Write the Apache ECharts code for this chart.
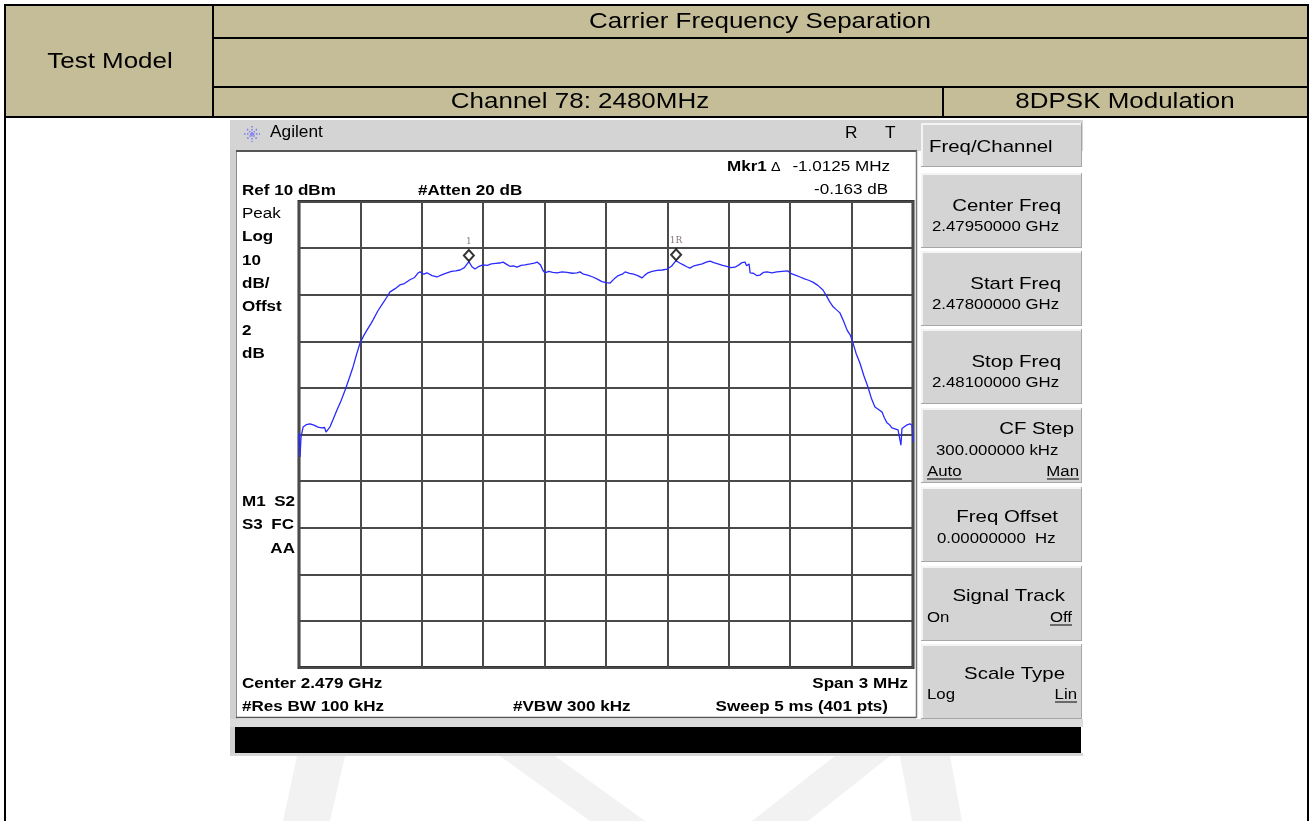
<!DOCTYPE html>
<html>
<head>
<meta charset="utf-8">
<title>Carrier Frequency Separation</title>
<script src="https://cdn.jsdelivr.net/npm/echarts/dist/echarts.min.js"></script>
<style>
  html, body { margin: 0; padding: 0; background: #fff; }
  #chart { width: 1313px; height: 821px; }
</style>
</head>
<body>
<div id="chart"></div>
<script>
// trace: offset from 2.479 GHz centre (kHz) and level (dBm)
const traceFreqKHz = [
  -1500, -1495, -1490, -1480, -1465, -1446, -1427, -1407, -1390, -1375,
  -1368, -1358, -1349, -1332, -1314, -1295, -1275, -1255, -1236, -1220,
  -1202, -1185, -1168, -1150, -1138, -1115, -1090, -1072, -1055, -1030,
  -1007, -985, -958, -935, -920, -909, -890, -875, -850, -826,
  -800, -777, -755, -735, -713, -692, -670, -655, -640, -620,
  -601, -580, -560, -540, -520, -503, -485, -470, -452, -435,
  -415, -396, -370, -350, -337, -320, -308, -298, -280, -260,
  -239, -215, -190, -165, -142, -127, -110, -90, -64, -40,
  -20, 0, 20, 40, 60, 80, 93, 115, 135, 155,
  176, 190, 205, 225, 250, 275, 298, 320, 342, 360,
  378, 395, 410, 430, 450, 470, 490, 508, 527, 547,
  570, 590, 610, 630, 650, 665, 679, 687, 694, 699,
  704, 720, 736, 752, 770, 787, 810, 835, 860, 889,
  905, 925, 948, 970, 990, 1011, 1035, 1060, 1075, 1094,
  1110, 1125, 1143, 1160, 1178, 1195, 1207, 1222, 1241, 1260,
  1280, 1297, 1314, 1330, 1349, 1360, 1373, 1385, 1397, 1412,
  1427, 1436, 1441, 1446, 1451, 1468, 1485, 1495, 1500
];
const traceLevelDbm = [
  -39.7, -44.8, -40.5, -38.4, -37.9, -37.7, -38.0, -38.4, -38.6, -38.5,
  -39.5, -38.9, -38.4, -36.6, -34.7, -32.8, -30.5, -28.0, -25.5, -23.0,
  -20.4, -18.9, -17.6, -16.3, -15.4, -13.5, -11.8, -10.6, -9.4, -8.7,
  -7.9, -7.6, -6.8, -6.3, -5.4, -5.1, -5.6, -5.3, -5.9, -6.2,
  -5.7, -5.3, -5.0, -4.9, -4.7, -4.2, -2.9, -4.0, -4.5, -3.9,
  -3.6, -3.7, -3.4, -3.3, -3.2, -3.0, -3.5, -3.9, -3.8, -4.1,
  -3.7, -3.6, -3.4, -3.2, -3.0, -3.6, -4.8, -5.3, -5.0, -5.2,
  -5.3, -5.1, -5.2, -5.4, -5.3, -5.1, -5.6, -5.8, -6.2, -6.7,
  -7.2, -7.4, -7.5, -6.6, -5.9, -5.6, -5.1, -5.4, -5.6, -5.9,
  -6.4, -5.8, -5.3, -5.0, -4.8, -4.7, -4.5, -3.9, -2.7, -3.2,
  -3.6, -4.0, -4.3, -3.8, -3.6, -3.4, -3.0, -2.8, -3.1, -3.4,
  -3.7, -3.9, -4.2, -4.1, -3.6, -3.1, -3.0, -3.8, -4.1, -3.4,
  -5.3, -5.4, -5.9, -5.8, -5.2, -5.1, -5.3, -5.1, -5.0, -4.9,
  -5.5, -5.8, -6.2, -6.6, -6.9, -7.3, -8.0, -9.0, -10.1, -11.6,
  -12.6, -13.2, -13.9, -15.6, -17.6, -18.8, -20.4, -22.6, -24.7, -27.4,
  -29.8, -32.3, -34.1, -34.6, -35.2, -36.4, -37.5, -37.9, -38.6, -38.8,
  -39.0, -39.4, -42.3, -38.7, -38.6, -38.0, -37.7, -38.0, -41.6
];

const markerNames = ['1', '1R'];
const markerFreqKHz = [-670, 342.5];
const markerLevelDbm = [-2.86, -2.7];

const refLevel = 10;      // dBm, top graticule
const dbPerDiv = 10;
const spanKHz = 3000;

// header table texts
const tableTitle = 'Carrier Frequency Separation';
const tableRowHead = 'Test Model';
const channelText = 'Channel 78: 2480MHz';
const modulationText = '8DPSK Modulation';

// softkey menu: [label, value line, left option, right option]
const softkeys = [
  ['Center Freq', '2.47950000 GHz', '', ''],
  ['Start Freq', '2.47800000 GHz', '', ''],
  ['Stop Freq', '2.48100000 GHz', '', ''],
  ['CF Step', '300.000000 kHz', 'Auto', 'Man'],
  ['Freq Offset', '0.00000000  Hz', '', ''],
  ['Signal Track', '', 'On', 'Off'],
  ['Scale Type', '', 'Log', 'Lin']
];

const FONT = '"Liberation Sans", Arial, sans-serif';

function txt(x, y, s, fs, o) {
  o = o || {};
  return {
    type: 'text', x: x, y: y, z: 30, silent: true,
    scaleX: o.sx || 1.1,
    style: {
      text: s, fontFamily: FONT, fontSize: fs,
      fontWeight: o.bold ? 'bold' : 'normal',
      fill: o.color || '#000',
      align: o.align || 'left', verticalAlign: 'middle'
    }
  };
}
function rect(x, y, w, h, fill, z) {
  return { type: 'rect', z: z == null ? -5 : z, silent: true, shape: { x: x, y: y, width: w, height: h }, style: { fill: fill } };
}
function line(x1, y1, x2, y2, color, w, z) {
  return { type: 'line', z: z == null ? 25 : z, silent: true, shape: { x1: x1, y1: y1, x2: x2, y2: y2 }, style: { stroke: color, lineWidth: w || 1 } };
}

const g = [];

// watermark
[
  [[297, 756], [345, 756], [330, 821], [283, 821]],
  [[500, 756], [555, 756], [645, 821], [590, 821]],
  [[835, 756], [890, 756], [808, 821], [752, 821]],
  [[900, 756], [950, 756], [962, 821], [912, 821]]
].forEach(p => g.push({ type: 'polygon', z: -20, silent: true, shape: { points: p }, style: { fill: '#f2f2f2' } }));

// header table
g.push(rect(5, 5, 1303, 112, '#C4BD97', -10));
g.push(line(4, 5, 1309, 5, '#000', 2));
g.push(line(213, 38, 1308, 38, '#000', 2));
g.push(line(213, 87, 1308, 87, '#000', 2));
g.push(line(4, 117, 1309, 117, '#000', 2));
g.push(line(5, 4, 5, 821, '#000', 2));
g.push(line(1308, 4, 1308, 821, '#000', 2));
g.push(line(213, 5, 213, 117, '#000', 2));
g.push(line(943, 87, 943, 117, '#000', 2));
g.push(txt(110, 62, tableRowHead, 22, { align: 'center', sx: 1.18 }));
g.push(txt(760, 22, tableTitle, 22, { align: 'center', sx: 1.18 }));
g.push(txt(580, 102, channelText, 22, { align: 'center', sx: 1.18 }));
g.push(txt(1125, 102, modulationText, 22, { align: 'center', sx: 1.18 }));

// instrument frame
g.push(rect(230, 120, 853, 31, '#d4d4d4', -6));
g.push(rect(230, 150, 7, 606, '#d0d0d0', -6));
g.push(line(236.5, 152, 236.5, 718, '#8c8c8c', 1, -4));
g.push(rect(237, 152, 679, 566, '#ffffff', -6));
g.push(line(236, 151, 917, 151, '#555', 2, -4));
g.push(line(916.5, 151, 916.5, 718, '#7a7a7a', 1.5, -4));
g.push(rect(918, 151, 165, 570, '#ffffff', -6));
g.push(line(236, 717.5, 916, 717.5, '#555', 1.5, -4));
g.push(rect(230, 719, 853, 8, '#dcdcdc', -6));
g.push(rect(235, 727, 846, 26, '#000000', -4));
g.push(rect(230, 753, 853, 3, '#d6d6d6', -6));

// Agilent spark logo
[[0, 8], [90, 8], [45, 7], [135, 7]].forEach(([a, r]) => {
  const rad = a * Math.PI / 180;
  g.push({
    type: 'line', z: 25, silent: true,
    shape: { x1: 252 - r * Math.cos(rad), y1: 134 - r * Math.sin(rad), x2: 252 + r * Math.cos(rad), y2: 134 + r * Math.sin(rad) },
    style: { stroke: '#7b7bf0', lineWidth: 1.5, lineDash: [1.5, 1.5] }
  });
});
g.push(txt(270, 133, 'Agilent', 16, { sx: 1.08 }));
g.push(txt(845, 134, 'R', 16, { sx: 1.08 }));
g.push(txt(885, 134, 'T', 16, { sx: 1.08 }));

// screen annotations
const B = { bold: true };
g.push(txt(727, 166.4, 'Mkr1', 15.5, B));
g.push(txt(771, 167, 'Δ', 13, {}));
g.push(txt(890, 166.4, '-1.0125 MHz', 15.5, { align: 'right' }));
g.push(txt(888, 189.4, '-0.163 dB', 15.5, { align: 'right' }));
g.push(txt(242, 190.4, 'Ref 10 dBm', 15.5, B));
g.push(txt(418, 190.4, '#Atten 20 dB', 15.5, B));
g.push(txt(242, 213.9, 'Peak', 15.5, {}));
['Log', '10', 'dB/', 'Offst', '2', 'dB'].forEach((s, i) => g.push(txt(242, 237.2 + i * 23.3, s, 15.5, B)));
g.push(txt(242, 501.4, 'M1', 15.5, B));
g.push(txt(295, 501.4, 'S2', 15.5, { bold: true, align: 'right' }));
g.push(txt(242, 524.4, 'S3', 15.5, B));
g.push(txt(294, 524.4, 'FC', 15.5, { bold: true, align: 'right' }));
g.push(txt(295, 548.4, 'AA', 15.5, { bold: true, align: 'right' }));
g.push(txt(242, 683.4, 'Center 2.479 GHz', 15.5, B));
g.push(txt(908, 683.4, 'Span 3 MHz', 15.5, { bold: true, align: 'right' }));
g.push(txt(242, 706.4, '#Res BW 100 kHz', 15.5, B));
g.push(txt(513, 706.4, '#VBW 300 kHz', 15.5, B));
g.push(txt(888, 706.4, 'Sweep 5 ms (401 pts)', 15.5, { bold: true, align: 'right' }));

// softkeys
function keyBox(y, h) {
  g.push(rect(921, y, 161, h, '#d4d4d4', -3));
  g.push(line(921, y + 1, 1082, y + 1, '#f4f4f4', 2, -2));
  g.push(line(922, y, 922, y + h, '#f4f4f4', 2, -2));
  g.push(line(921, y + h - 0.5, 1082, y + h - 0.5, '#a6a6a6', 1, -2));
  g.push(line(1081.5, y, 1081.5, y + h, '#a6a6a6', 1, -2));
}
keyBox(123, 44);
g.push(txt(929, 146.9, 'Freq/Channel', 17, { sx: 1.2 }));
const keyTops = [173, 251, 329, 408, 487, 566, 644];
const keyLabelRight = [1061, 1061, 1061, 1074, 1058, 1065, 1065];
const keyValueLeft = [932, 932, 932, 936, 937, 932, 932];
const keyLabelDy = [33, 33, 33, 21, 30, 30, 30];
const keyValueDy = [54, 54, 54, 43, 52, 52, 51];
const keyOptDy = [0, 0, 0, 64, 0, 52, 51];
const optRight = { Man: 1079, Off: 1072, Lin: 1077 };
const optWidth = { Man: 32, Off: 22, Lin: 22 };
softkeys.forEach((k, i) => {
  const y = keyTops[i];
  keyBox(y, 75);
  g.push(txt(keyLabelRight[i], y + keyLabelDy[i], k[0], 17, { align: 'right', sx: 1.2 }));
  if (k[1]) g.push(txt(keyValueLeft[i], y + keyValueDy[i], k[1], 14, { sx: 1.2 }));
  const oy = y + keyOptDy[i];
  if (k[2]) {
    g.push(txt(927, oy, k[2], 14, { sx: 1.2 }));
    if (k[2] === 'Auto') g.push(line(927, oy + 7, 962, oy + 7, '#000', 1));
  }
  if (k[3]) {
    const r = optRight[k[3]];
    g.push(txt(r, oy, k[3], 14, { align: 'right', sx: 1.2 }));
    g.push(line(r - optWidth[k[3]], oy + 7, r, oy + 7, '#000', 1));
  }
});

const chart = echarts.init(document.getElementById('chart'));
chart.setOption({
  animation: false,
  backgroundColor: '#fff',
  grid: {
    left: 299, top: 201.5, width: 614, height: 466,
    show: true, backgroundColor: '#fff', borderColor: '#333', borderWidth: 3
  },
  xAxis: {
    type: 'value', min: -spanKHz / 2, max: spanKHz / 2, interval: spanKHz / 10,
    axisLine: { show: false }, axisTick: { show: false }, axisLabel: { show: false },
    splitLine: { show: true, lineStyle: { color: '#4a4a4a', width: 2 } }
  },
  yAxis: {
    type: 'value', min: refLevel - 10 * dbPerDiv, max: refLevel, interval: dbPerDiv,
    axisLine: { show: false }, axisTick: { show: false }, axisLabel: { show: false },
    splitLine: { show: true, lineStyle: { color: '#4a4a4a', width: 2 } }
  },
  graphic: { elements: g },
  series: [
    {
      type: 'line',
      data: traceFreqKHz.map((f, i) => [f, traceLevelDbm[i]]),
      showSymbol: false,
      lineStyle: { color: '#2a2aff', width: 1.3 },
      z: 5
    },
    {
      type: 'scatter',
      data: markerNames.map((n, i) => ({ name: n, value: [markerFreqKHz[i], markerLevelDbm[i]] })),
      symbol: 'diamond',
      symbolSize: [10, 11],
      symbolOffset: [0, -6],
      itemStyle: { color: 'rgba(255,255,255,0)', borderColor: '#000', borderWidth: 2 },
      label: {
        show: true, position: 'top', distance: 3, formatter: '{b}',
        fontFamily: '"DejaVu Serif", serif', fontSize: 9, color: '#6a5555'
      },
      z: 6
    }
  ]
});
</script>
</body>
</html>
